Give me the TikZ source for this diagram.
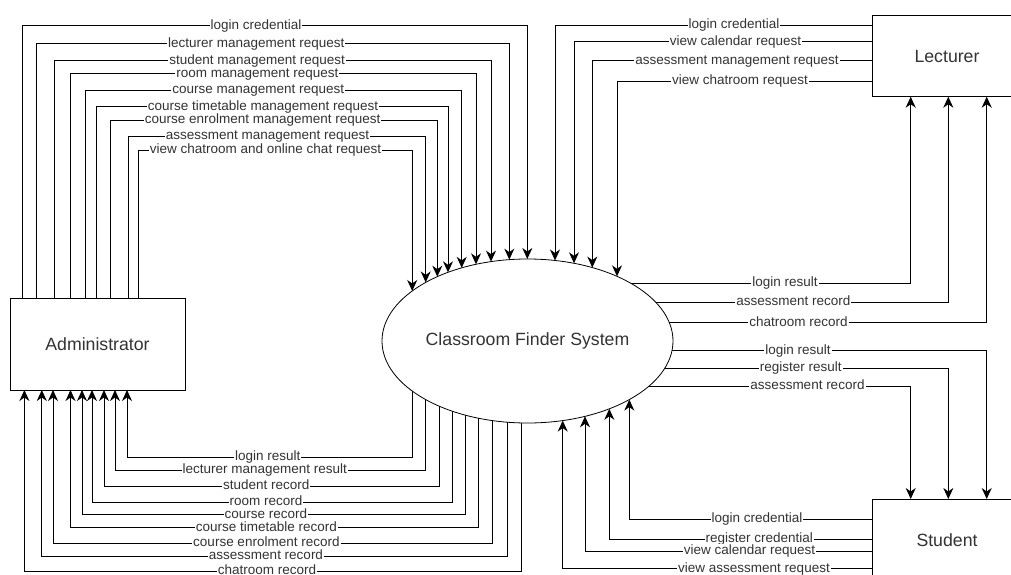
\documentclass[tikz,border=0pt]{standalone}
\usepackage{fontspec}
\setmainfont{Liberation Sans}
\usetikzlibrary{arrows.meta,calc,shapes.geometric}
\begin{document}
\begin{tikzpicture}[x=1pt,y=-1pt,
  flow/.style={draw=black, line width=1pt, -{Stealth[length=11pt,width=10pt,inset=3.5pt]}},
  lbl/.style={fill=white, inner sep=1pt, text=black!80,
    font=\fontsize{13.5}{15}\selectfont, text height=9.7pt, text depth=2.8pt},
  entity/.style={draw=black, line width=1pt, inner sep=0pt, outer sep=0pt,
    text=black!80, font=\fontsize{17.7}{20}\selectfont}]
\useasboundingbox (0,0) rectangle (1011,575);
\clip (0,0) rectangle (1011,575);
\fill[white] (0,0) rectangle (1011,575);

% external entities and the process
\node[entity, minimum width=175pt, minimum height=92pt] (adm) at (97.5,344) {Administrator};
\node[entity, minimum width=150pt, minimum height=81.4pt] (lec) at (947,56) {Lecturer};
\node[entity, minimum width=150pt, minimum height=82pt] (stu) at (947,540) {Student};
\node[entity, ellipse, minimum width=291pt, minimum height=164pt, line width=0.8pt] (sys)
  at (527.5,341) {Classroom Finder System};

% Administrator -> system (over the top)
\foreach \xa/\yy/\xe/\lx/\txt in {
  22.7/26/527.3/256/login credential,
  36.7/43.7/509.3/256.2/lecturer management request,
  54/60.7/491/257.2/student management request,
  70.7/74/476/257.4/room management request,
  85.3/90.3/461.7/258.3/course management request,
  96.7/107/448/263.1/course timetable management request,
  110/120.3/437.3/262.6/course enrolment management request,
  128/136/425.7/267.6/assessment management request,
  138.7/150.3/412.2/265.5/view chatroom and online chat request}{
  \coordinate (e) at ($(sys.center)+({\xe-527.5},{-82*sqrt(1-((\xe-527.5)/145.5)^2)})$);
  \draw[flow] ($(adm.north west)+(\xa-10,0)$) |- (\xe,\yy) -- (e)
    node[lbl] at (\lx,\yy) {\txt};
}

% system -> Administrator (under the bottom)
\foreach \xr/\yy/\xa/\lx/\txt in {
  412.3/457.3/127/267.8/login result,
  425.7/470/115/264.7/lecturer management result,
  439.3/486/104/266.2/student record,
  452/502/92/266/room record,
  465.3/514.7/82/266/course record,
  478.7/527.7/70.5/266.4/course timetable record,
  492/543.3/53/266.4/course enrolment record,
  507.3/556/41.8/266/assessment record,
  521.7/571/24.4/266.9/chatroom record}{
  \coordinate (s) at ($(sys.center)+({\xr-527.5},{82*sqrt(1-((\xr-527.5)/145.5)^2)})$);
  \draw[flow] (s) |- (\xa,\yy) -- ($(adm.south west)+(\xa-10,0)$)
    node[lbl] at (\lx,\yy) {\txt};
}

% Lecturer -> system
\foreach \yy/\xe/\lx/\txt in {
  25.3/555/734/login credential,
  41.7/574/735.5/view calendar request,
  60.7/592.3/737/assessment management request,
  81.3/617/740/view chatroom request}{
  \coordinate (e) at ($(sys.center)+({\xe-527.5},{-82*sqrt(1-((\xe-527.5)/145.5)^2)})$);
  \draw[flow] ($(lec.north west)+(0,\yy-15.3)$) -| (e)
    node[lbl] at (\lx,\yy) {\txt};
}

% system -> Lecturer
\foreach \yy/\xl/\lx/\txt in {
  283.3/910.7/785/login result,
  302.3/948.3/793.3/assessment record,
  322.7/986.7/798.5/chatroom record}{
  \coordinate (s) at ($(sys.center)+({145.5*sqrt(1-((\yy-341)/82)^2)},{\yy-341})$);
  \draw[flow] (s) -| ($(lec.south west)+(\xl-872,0)$)
    node[lbl] at (\lx,\yy) {\txt};
}

% system -> Student
\foreach \yy/\xs/\lx/\txt in {
  350.7/986.7/798/login result,
  368.3/948.3/800.8/register result,
  386/910.7/807.5/assessment record}{
  \coordinate (s) at ($(sys.center)+({145.5*sqrt(1-((\yy-341)/82)^2)},{\yy-341})$);
  \draw[flow] (s) -| ($(stu.north west)+(\xs-872,0)$)
    node[lbl] at (\lx,\yy) {\txt};
}

% Student -> system
\foreach \yy/\xe/\lx/\txt in {
  519.3/629.3/757/login credential,
  539.3/609.3/759.2/register credential,
  551/585/749.5/view calendar request,
  568.7/562.7/754/view assessment request}{
  \coordinate (e) at ($(sys.center)+({\xe-527.5},{82*sqrt(1-((\xe-527.5)/145.5)^2)})$);
  \draw[flow] ($(stu.north west)+(0,\yy-499)$) -| (e)
    node[lbl] at (\lx,\yy) {\txt};
}
\end{tikzpicture}
\end{document}
